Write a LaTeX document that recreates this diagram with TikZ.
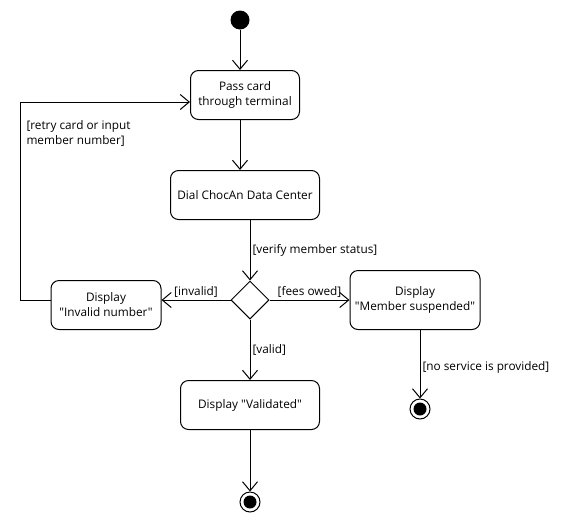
\documentclass[tikz,border=0pt]{standalone}
\usepackage{fontspec}
\setmainfont{Open Sans}[Ligatures=TeXOff]
\usetikzlibrary{arrows.meta,shapes.geometric}
\begin{document}
\begin{tikzpicture}[x=1pt,y=-1pt,line width=1pt,
    font=\fontsize{11.8}{15}\selectfont,
    flow/.style={-{Straight Barb[length=9pt,width=15pt]}},
    action/.style={draw,rounded corners=8pt,align=center,minimum height=49pt,inner sep=2pt},
    initial/.style={circle,fill=black,minimum size=19pt,inner sep=0pt},
    final/.style={circle,draw,minimum size=20pt,inner sep=0pt,
        path picture={\fill (path picture bounding box.center) circle (6.5pt);}},
    choice/.style={diamond,draw,minimum width=38pt,minimum height=38pt,inner sep=0pt},
    guard/.style={inner sep=2pt}]
    \useasboundingbox (0,0) rectangle (580,520);
    \node[initial] (start) at (240,20) {};
    \node[action,minimum width=109pt] (pass) at (245,95) {Pass card\\through terminal};
    \node[action,minimum width=149pt] (dial) at (245,195) {Dial ChocAn Data Center};
    \node[choice] (dec) at (250,300) {};
    \node[action,minimum width=110pt] (inv) at (106,305) {Display\\"Invalid number"};
    \node[action,minimum width=130pt,minimum height=59pt] (sus) at (415,300) {Display\\"Member suspended"};
    \node[action,minimum width=139pt] (val) at (250,405) {Display "Validated"};
    \node[final] (fin1) at (250,502) {};
    \node[final] (fin2) at (420,409) {};
    \draw[flow] (start) -- (start |- pass.north);
    \draw[flow] (pass.south -| start) -- (start |- dial.north);
    \draw[flow] (dial.south -| dec) -- node[guard,right] (lverify) {[verify member status]} (dec);
    \draw[flow] (dec) -- node[guard,above] (linvalid) {[invalid]} (dec -| inv.east);
    \draw[flow] (dec) -- node[guard,above] (lfees) {[fees owed]} (sus);
    \draw[flow] (dec) -- node[guard,right] (lvalid) {[valid]} (val);
    \draw[flow] (val) -- (fin1);
    \draw[flow] (sus.south -| fin2) -- node[guard,right,pos=0.55] (lnoserv) {[no service is provided]} (fin2);
    \draw[flow] (dec -| inv.west) -- ++(-30,0) |- ([yshift=-7pt]pass.west);
    \node[guard,anchor=west,align=left] (lretry) at (24,133) {[retry card or input\\member number]};
\end{tikzpicture}
\end{document}
